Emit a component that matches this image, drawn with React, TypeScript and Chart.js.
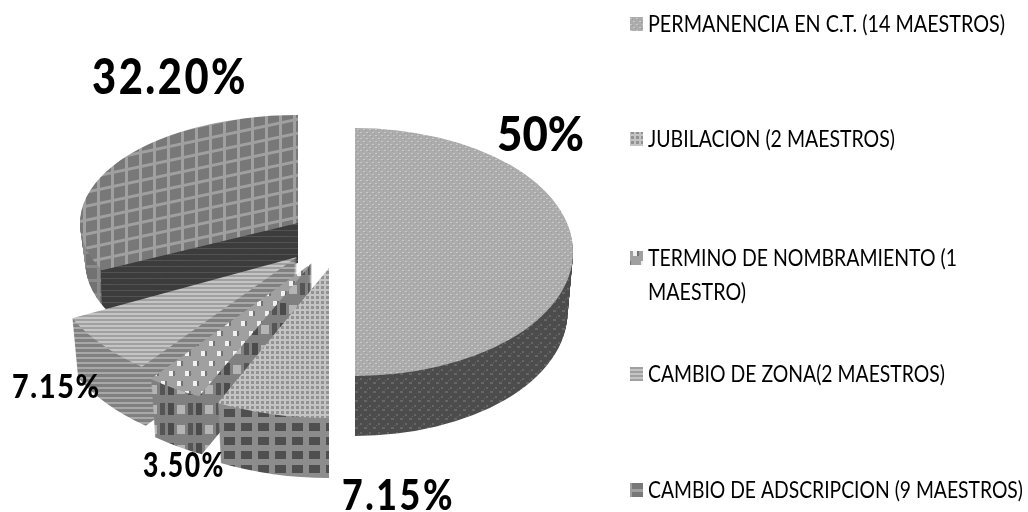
import React, { useEffect, useRef } from "react";
import { Chart, registerables } from "chart.js";

Chart.register(...registerables);

const categories = [
  ["PERMANENCIA EN C.T. (14 MAESTROS)"],
  ["JUBILACION (2 MAESTROS)"],
  ["TERMINO DE NOMBRAMIENTO (1", "MAESTRO)"],
  ["CAMBIO DE ZONA(2 MAESTROS)"],
  ["CAMBIO DE ADSCRIPCION (9 MAESTROS)"],
];
const values = [50, 7.15, 3.5, 7.15, 32.2];
const valueLabels = ["50%", "7.15%", "3.50%", "7.15%", "32.20%"];
const fillColors = ["#b0b0b0", "#ababab", "#a4a4a4", "#b4b4b4", "#7e7e7e"];

// Appearance: projected wedge geometry (exploded 3-D look)
const wedgeStyle = [
  { ax: 355, ay: 252, rx: 218, ry: 124, depth: 60 },
  { ax: 329, ay: 268, rx: 256, ry: 150, depth: 60 },
  { ax: 312, ay: 263, rx: 260, ry: 148, depth: 58 },
  { ax: 297, ay: 257, rx: 250, ry: 140, depth: 59 },
  { ax: 298, ay: 223, rx: 218, ry: 108, depth: 40 },
];
const paintOrder = [4, 0, 3, 2, 1];
const labelStyle = [
  { x: 497, y: 151, size: 48, w: 87, gap: 0 },
  { x: 342, y: 510, size: 42, w: 113, gap: 3 },
  { x: 143, y: 477, size: 34, w: 82, gap: 2 },
  { x: 12, y: 398, size: 33, w: 89, gap: 2 },
  { x: 92, y: 94, size: 50, w: 156, gap: 3 },
];
const legendStyle = [
  { y: 24, widths: [357] },
  { y: 139, widths: [247] },
  { y: 258, widths: [309, 98] },
  { y: 374, widths: [297] },
  { y: 490, widths: [375] },
];
const patternShear = [0, 0, 0, 0, -12];
const darkFaceWedge = 4;

type Painter = (c: CanvasRenderingContext2D) => void;

function tile(w: number, h: number, paint: Painter): HTMLCanvasElement {
  const cv = document.createElement("canvas");
  cv.width = w;
  cv.height = h;
  paint(cv.getContext("2d")!);
  return cv;
}

function rects(c: CanvasRenderingContext2D, color: string, list: number[][]) {
  c.fillStyle = color;
  list.forEach(([x, y, w, h]) => c.fillRect(x, y, w, h));
}

function buildTiles() {
  const top = [
    tile(6, 6, (c) => {
      rects(c, "#acacac", [[0, 0, 6, 6]]);
      rects(c, "#c8c8c8", [[0, 0, 2, 1], [3, 3, 2, 1]]);
      rects(c, "#9c9c9c", [[2, 1, 1, 1], [5, 4, 1, 1]]);
    }),
    tile(5, 5, (c) => {
      rects(c, "#c4c4c4", [[0, 0, 5, 5]]);
      rects(c, "#929292", [[1, 1, 3, 3]]);
    }),
    tile(16, 20, (c) => {
      rects(c, "#a0a0a0", [[0, 0, 16, 20]]);
      rects(c, "#f0f0f0", [[1, 1, 4, 5], [9, 11, 4, 5]]);
      rects(c, "#727272", [[5, 1, 2, 5], [13, 11, 2, 5]]);
    }),
    tile(4, 4, (c) => {
      rects(c, "#a0a0a0", [[0, 0, 4, 4]]);
      rects(c, "#c4c4c4", [[0, 1, 4, 2]]);
    }),
    tile(14, 14, (c) => {
      rects(c, "#a0a0a0", [[0, 0, 14, 14]]);
      rects(c, "#787878", [[2, 2, 11, 11]]);
    }),
  ];
  const side = [
    tile(9, 9, (c) => {
      rects(c, "#4c4c4c", [[0, 0, 9, 9]]);
      rects(c, "#666666", [[0, 0, 2, 2], [4, 4, 3, 2], [7, 2, 1, 1]]);
    }),
    tile(17, 14, (c) => {
      rects(c, "#8c8c8c", [[0, 0, 17, 14]]);
      rects(c, "#4f4f4f", [[3, 3, 11, 8]]);
    }),
    tile(28, 20, (c) => {
      rects(c, "#808080", [[0, 0, 28, 20]]);
      rects(c, "#4b4b4b", [[0, 3, 6, 12]]);
      rects(c, "#b4b4b4", [[9, 5, 8, 9]]);
      rects(c, "#555555", [[20, 3, 5, 12]]);
    }),
    tile(4, 5, (c) => {
      rects(c, "#808080", [[0, 0, 4, 5]]);
      rects(c, "#a8a8a8", [[0, 2, 4, 2]]);
    }),
    tile(14, 14, (c) => {
      rects(c, "#8a8a8a", [[0, 0, 14, 14]]);
      rects(c, "#727272", [[2, 2, 11, 11]]);
    }),
  ];
  const face = tile(6, 6, (c) => {
    rects(c, "#3c3c3c", [[0, 0, 6, 6]]);
    rects(c, "#535353", [[0, 2, 6, 1]]);
  });
  return { top, side, face };
}

export default function App() {
  const ref = useRef<HTMLCanvasElement>(null);
  useEffect(() => {
    document.body.style.margin = "0";
    const canvas = ref.current!;
    const ctx = canvas.getContext("2d")!;
    const tiles = buildTiles();
    const topPat = tiles.top.map((t) => ctx.createPattern(t, "repeat")!);
    const sidePat = tiles.side.map((t) => ctx.createPattern(t, "repeat")!);
    const facePat = ctx.createPattern(tiles.face, "repeat")!;

    const drawArc = (
      c: CanvasRenderingContext2D,
      arc: any,
      pat: CanvasPattern,
      i: number,
      dy: number,
      shrink: number,
      shear: number
    ) => {
      const s = wedgeStyle[i];
      const R = arc.outerRadius;
      c.save();
      c.translate(s.ax, s.ay + dy);
      c.scale((s.rx / R) * shrink, s.ry / R);
      c.translate(-arc.x, -arc.y);
      pat.setTransform(c.getTransform().inverse().skewYSelf(shear));
      const saved = arc.options;
      arc.options = { ...saved, backgroundColor: pat, borderWidth: 0 };
      arc.draw(c);
      arc.options = saved;
      c.restore();
    };

    const extrude = (c: CanvasRenderingContext2D, arc: any, pat: CanvasPattern, i: number) => {
      const depth = wedgeStyle[i].depth;
      for (let d = depth; d >= 1; d--) {
        drawArc(c, arc, pat, i, d, 1 - 0.025 * (d / depth), 0);
      }
    };

    const fit = (
      c: CanvasRenderingContext2D,
      text: string,
      x: number,
      y: number,
      width: number
    ) => {
      const m = c.measureText(text).width;
      c.save();
      c.translate(x, y);
      c.scale(width / m, 1);
      c.fillText(text, 0, 0);
      c.restore();
    };

    const pie3d = {
      id: "pie3d",
      beforeDatasetsDraw(chart: any) {
        const c: CanvasRenderingContext2D = chart.ctx;
        const arcs = chart.getDatasetMeta(0).data;
        paintOrder.forEach((i) => {
          const s = wedgeStyle[i];
          extrude(c, arcs[i], sidePat[i], i);
          if (i === darkFaceWedge) {
            // the cut face along the wedge's leading radius is darker than its rim
            const cx = s.ax + s.rx * Math.cos(arcs[i].startAngle);
            const cy = s.ay + s.ry * Math.sin(arcs[i].startAngle);
            c.save();
            c.beginPath();
            c.moveTo(s.ax, s.ay);
            c.lineTo(cx, cy);
            c.lineTo(cx, cy + s.depth);
            c.lineTo(s.ax, s.ay + s.depth);
            c.closePath();
            c.clip();
            extrude(c, arcs[i], facePat, i);
            c.restore();
          }
          drawArc(c, arcs[i], topPat[i], i, 0, 1, patternShear[i]);
        });
        return false;
      },
      afterDraw(chart: any) {
        const c: CanvasRenderingContext2D = chart.ctx;
        c.save();
        c.textAlign = "left";
        c.textBaseline = "alphabetic";
        c.fillStyle = "#000000";
        valueLabels.forEach((t, i) => {
          const l = labelStyle[i];
          c.font = `900 ${l.size}px Lato`;
          (c as any).letterSpacing = `${l.gap}px`;
          fit(c, t, l.x, l.y, l.w);
        });
        (c as any).letterSpacing = "0px";
        c.font = "23px Lato";
        categories.forEach((lines, i) => {
          const l = legendStyle[i];
          c.save();
          c.fillStyle = topPat[i];
          topPat[i].setTransform(new DOMMatrix());
          c.fillRect(630, l.y - 7, 13, 14);
          c.restore();
          lines.forEach((t, k) => fit(c, t, 648, l.y + 8 + k * 34, l.widths[k]));
        });
        c.restore();
      },
    };

    const chart = new Chart(canvas, {
      type: "pie",
      data: {
        labels: categories.map((l) => l.join(" ")),
        datasets: [{ data: values, backgroundColor: fillColors, borderWidth: 0 }],
      },
      options: {
        animation: false,
        responsive: false,
        plugins: { legend: { display: false }, tooltip: { enabled: false } },
      },
      plugins: [pie3d],
    } as any);
    return () => chart.destroy();
  }, []);
  return (
    <div style={{ width: 1028, height: 512, background: "#ffffff" }}>
      <canvas
        ref={ref}
        width={1028}
        height={512}
        style={{ display: "block", filter: "blur(0.6px)" }}
      />
    </div>
  );
}
